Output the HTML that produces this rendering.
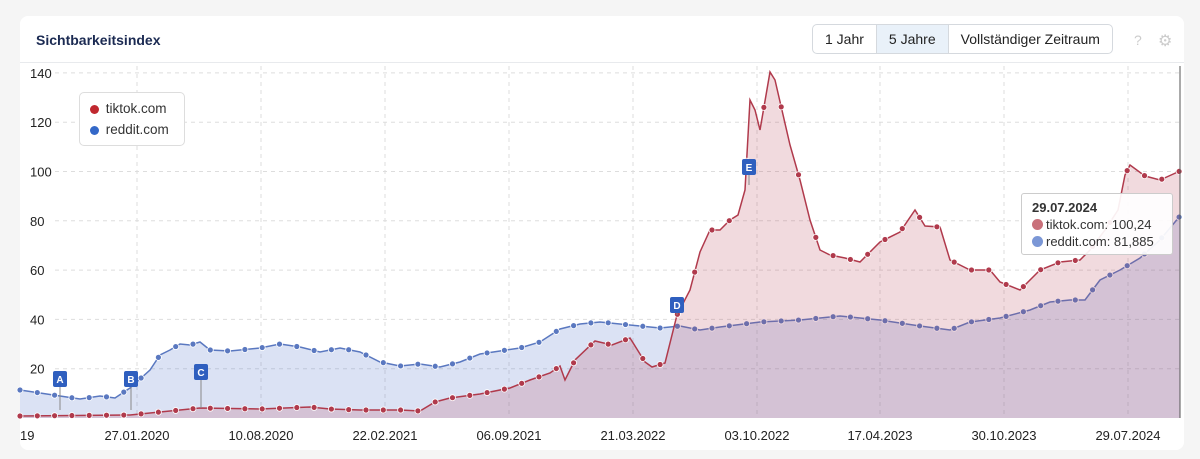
<!DOCTYPE html>
<html><head><meta charset="utf-8"><style>
body{margin:0;width:1200px;height:459px;background:#f5f5f5;font-family:"Liberation Sans",sans-serif;overflow:hidden;position:relative}
.card{position:absolute;left:20px;top:16px;width:1164px;height:434px;background:#fff;border-radius:8px}
.title{position:absolute;left:36px;top:32px;font-size:14px;font-weight:bold;color:#1b2a52}
.hdr{position:absolute;left:20px;top:62px;width:1164px;height:1px;background:#e8eaed}
.btns{position:absolute;left:812px;top:24px;height:28px;border:1px solid #d5d9de;border-radius:5px;display:flex;font-size:14px;color:#222;overflow:hidden}
.btns div{padding:0 12px;line-height:28px}
.btns .a{background:#e9f1f9;border-left:1px solid #d5d9de;border-right:1px solid #d5d9de}
.ic{position:absolute;top:32px;color:#ccc;font-size:14px}
svg{position:absolute;left:0;top:0}
.tt{position:absolute;left:1021px;top:193px;width:150px;height:60px;background:rgba(255,255,255,.92);border:1px solid #ccc;border-radius:3px;font-size:13px;color:#333}
.tt b{position:absolute;left:10px;top:6px}
.tt .r{position:absolute;left:10px}
.dot{display:inline-block;width:11px;height:11px;border-radius:50%;vertical-align:-1px;margin-right:3px}
.leg{position:absolute;left:79px;top:92px;width:104px;height:52px;border:1px solid #ddd;border-radius:5px;background:#fff;font-size:13.5px;color:#333}
.leg div{position:absolute;left:10px}
</style></head><body>
<div class="card"></div>
<div class="title">Sichtbarkeitsindex</div>
<div class="btns"><div>1 Jahr</div><div class="a">5 Jahre</div><div>Vollständiger Zeitraum</div></div>
<div class="ic" style="left:1134px">?</div><div class="ic" style="left:1158px;font-size:16px;top:31px">⚙</div>
<div class="hdr"></div>
<svg id="s" width="1200" height="459"></svg>
<div class="leg"><div style="top:8px"><span class="dot" style="background:#c0282f;width:9px;height:9px"></span> tiktok.com</div><div style="top:29px"><span class="dot" style="background:#3468c8;width:9px;height:9px"></span> reddit.com</div></div>
<div class="tt"><b>29.07.2024</b><div class="r" style="top:23px"><span class="dot" style="background:#c9707a"></span>tiktok.com: 100,24</div><div class="r" style="top:40px"><span class="dot" style="background:#7b97d6"></span>reddit.com: 81,885</div></div>
<script>
const s=document.getElementById('s');let h='';
const Y0=418,k=2.465;
for(let v=20;v<=140;v+=20){const y=Y0-v*k;h+=`<line x1="55" x2="1180" y1="${y}" y2="${y}" stroke="#ddd" stroke-dasharray="4,4"/><text x="30" y="${y+5}" font-size="13" fill="#222">${v}</text>`;}
const xs=[137,261,385,509,633,757,880,1004,1128],lb=['27.01.2020','10.08.2020','22.02.2021','06.09.2021','21.03.2022','03.10.2022','17.04.2023','30.10.2023','29.07.2024'];
xs.forEach((x,i)=>{h+=`<line x1="${x}" x2="${x}" y1="66" y2="418" stroke="#ddd" stroke-dasharray="4,4"/><text x="${x}" y="440" font-size="13" fill="#222" text-anchor="middle">${lb[i]}</text>`});
h+=`<text x="20" y="440" font-size="13" fill="#222">19</text>`;
const T=[[20,416],[130,415],[150,413],[200,408],[260,409],[310,407],[330,409],[360,410],[400,410],[420,411],[435,402],[450,398],[480,394],[510,388],[530,380],[550,373],[560,366],[565,380],[575,360],[595,341],[612,345],[630,338],[645,362],[652,367],[665,363],[677,315],[690,290],[700,252],[710,230],[720,230],[730,220],[738,215],[745,190],[750,100],[755,110],[760,130],[770,72],[775,80],[790,145],[800,180],[810,220],[820,250],[830,255],[845,258],[860,262],[880,242],[900,232],[915,210],[925,226],[940,227],[950,260],[970,270],[990,270],[1000,282],[1020,290],[1040,270],[1060,262],[1080,260],[1090,250],[1105,230],[1118,210],[1125,175],[1130,165],[1145,176],[1160,180],[1180,171]];
const R=[[20,390],[40,393],[60,396],[80,399],[100,396],[115,398],[130,388],[150,370],[160,355],[170,350],[180,344],[190,345],[200,342],[210,350],[230,351],[260,348],[280,344],[300,347],[320,352],[340,348],[360,352],[380,362],[400,366],[420,364],[440,367],[460,362],[480,354],[500,351],[520,348],[540,342],[560,329],[580,324],[600,322],[640,326],[660,328],[680,326],[700,330],[720,327],[760,322],[800,320],[840,316],[880,320],[920,326],[950,330],[970,322],[1000,318],[1030,310],[1050,302],[1070,300],[1085,300],[1100,280],[1120,270],[1140,258],[1160,240],[1180,216]];
function ip(P,x){for(let i=1;i<P.length;i++)if(x<=P[i][0]){const a=P[i-1],b=P[i];return a[1]+(b[1]-a[1])*(x-a[0])/(b[0]-a[0]);}return P[P.length-1][1];}
function ser(P,fill,col){const pts=P.map(p=>p.join(',')).join(' ');h+=`<polygon points="20,418 ${pts} 1180,418" fill="${fill}"/><polyline points="${pts}" fill="none" stroke="${col}" stroke-width="1.5"/>`;for(let x=20;x<=1180;x+=17.3)h+=`<circle cx="${x}" cy="${ip(P,x)}" r="3" fill="${col}" stroke="#fff" stroke-width="0.8"/>`;}
ser(R,'rgba(90,125,205,0.22)','#5a78c0');
ser(T,'rgba(185,70,90,0.2)','#b03a4c');
h+=`<line x1="1180" x2="1180" y1="66" y2="418" stroke="#555"/>`;
[['A',60,379,410],['B',131,379,410],['C',201,372,408],['D',677,305,315],['E',749,167,185]].forEach(f=>{h+=`<line x1="${f[1]}" x2="${f[1]}" y1="${f[2]}" y2="${f[3]}" stroke="#888"/><rect x="${f[1]-7}" y="${f[2]-8}" width="14" height="16" rx="2" fill="#2f5fbf"/><text x="${f[1]}" y="${f[2]+4}" font-size="10" font-weight="bold" fill="#fff" text-anchor="middle">${f[0]}</text>`});
s.innerHTML=h;
</script>
</body></html>
